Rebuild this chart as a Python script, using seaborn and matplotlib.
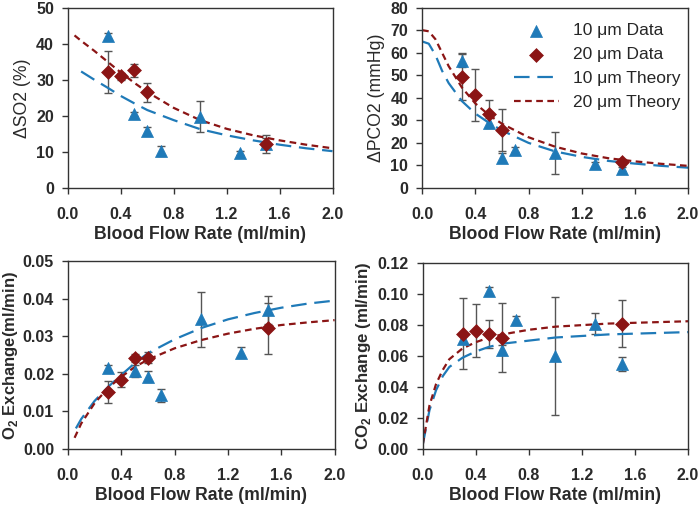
import numpy as np
import seaborn as sns
import matplotlib.pyplot as plt

# measured flow rates (ml/min)
flow_10 = [0.3, 0.5, 0.6, 0.7, 1.0, 1.3, 1.5]
flow_20 = [0.3, 0.4, 0.5, 0.6, 1.5]

# delta SO2 (%)
so2_10 = [42.2, 20.5, 15.8, 10.2, 19.8, 9.6, 12.2]
so2_10_err = [0.8, 0.5, 1.2, 1.3, 4.2, 0.6, 2.6]
so2_20 = [32.2, 31.0, 32.6, 26.5, 12.3]
so2_20_err = [5.9, 1.0, 1.8, 2.7, 1.5]

# delta PCO2 (mmHg)
pco2_10 = [56.5, 28.7, 13.5, 17.0, 15.5, 10.5, 8.5]
pco2_10_err = [2.8, 2.2, 2.0, 1.0, 9.3, 1.0, 1.0]
pco2_20 = [49.3, 41.3, 33.0, 25.7, 11.5]
pco2_20_err = [10.4, 11.6, 6.0, 9.5, 1.5]

# O2 exchange (ml/min)
o2_10 = [0.0215, 0.0208, 0.0193, 0.0143, 0.0345, 0.0256, 0.0370]
o2_10_err = [0.0008, 0.0015, 0.0015, 0.0017, 0.0073, 0.0015, 0.0037]
o2_20 = [0.0152, 0.0185, 0.0242, 0.0243, 0.0321]
o2_20_err = [0.0030, 0.0020, 0.0010, 0.0015, 0.0068]

# CO2 exchange (ml/min)
co2_10 = [0.071, 0.102, 0.064, 0.083, 0.060, 0.081, 0.055]
co2_10_err = [0.002, 0.0025, 0.003, 0.003, 0.038, 0.0065, 0.0045]
co2_20 = [0.0745, 0.0765, 0.074, 0.072, 0.081]
co2_20_err = [0.023, 0.017, 0.009, 0.0225, 0.015]

# theory curves
th_so2_x10 = [0.1, 0.2, 0.3, 0.4, 0.5, 0.6, 0.8, 1.0, 1.2, 1.4, 1.6, 1.8, 2.0]
th_so2_10 = [32.3, 30.0, 27.8, 25.5, 23.5, 21.6, 18.8, 16.3, 14.6, 13.2, 12.0, 11.0, 10.2]
th_so2_x20 = [0.05, 0.1, 0.2, 0.3, 0.4, 0.5, 0.6, 0.8, 1.0, 1.2, 1.4, 1.6, 1.8, 2.0]
th_so2_20 = [42.3, 40.8, 38.0, 35.0, 32.0, 29.2, 26.6, 22.2, 18.8, 16.4, 14.6, 13.2, 12.0, 11.0]

th_pco2_x = [0.0, 0.05, 0.1, 0.15, 0.2, 0.3, 0.4, 0.5, 0.6, 0.8, 1.0, 1.2, 1.4, 1.6, 1.8, 2.0]
th_pco2_10 = [65.0, 64.0, 59.0, 52.0, 46.5, 38.5, 33.0, 29.0, 25.5, 20.0, 16.2, 13.8, 12.0, 10.8, 9.8, 9.0]
th_pco2_20 = [70.0, 69.5, 66.0, 60.0, 54.0, 44.5, 37.5, 32.5, 28.5, 22.5, 18.3, 15.3, 13.2, 11.8, 10.7, 9.8]

th_o2_x10 = [0.06, 0.1, 0.2, 0.3, 0.4, 0.5, 0.6, 0.8, 1.0, 1.2, 1.4, 1.6, 1.8, 2.0]
th_o2_10 = [0.0055, 0.0080, 0.0128, 0.0165, 0.0197, 0.0228, 0.0255, 0.0292, 0.0322, 0.0345, 0.0362, 0.0376, 0.0387, 0.0395]
th_o2_x20 = [0.05, 0.1, 0.2, 0.3, 0.4, 0.5, 0.6, 0.8, 1.0, 1.2, 1.4, 1.6, 1.8, 2.0]
th_o2_20 = [0.0030, 0.0068, 0.0122, 0.0162, 0.0192, 0.0218, 0.0238, 0.0268, 0.0290, 0.0307, 0.0320, 0.0330, 0.0337, 0.0343]

th_co2_x = [0.0, 0.05, 0.1, 0.15, 0.2, 0.3, 0.4, 0.5, 0.6, 0.8, 1.0, 1.2, 1.4, 1.6, 1.8, 2.0]
th_co2_10 = [0.003, 0.025, 0.038, 0.047, 0.053, 0.059, 0.063, 0.066, 0.068, 0.070, 0.072, 0.073, 0.074, 0.0745, 0.075, 0.0755]
th_co2_20 = [0.003, 0.028, 0.042, 0.051, 0.058, 0.065, 0.069, 0.072, 0.074, 0.077, 0.079, 0.080, 0.081, 0.0815, 0.082, 0.0825]

BLUE = '#1f7ab8'
RED = '#8b1515'
TXT = '#2a2a2a'

sns.set_style('white')
plt.rcParams['font.family'] = ['Liberation Sans', 'DejaVu Sans']
plt.rcParams['mathtext.fontset'] = 'custom'
plt.rcParams['mathtext.rm'] = 'Liberation Sans:bold'
plt.rcParams['mathtext.bf'] = 'Liberation Sans:bold'

fig = plt.figure(figsize=(7, 5.08), dpi=100)
positions = [
    [0.097, 0.630, 0.378, 0.355],
    [0.603, 0.630, 0.380, 0.355],
    [0.097, 0.116, 0.381, 0.370],
    [0.604, 0.116, 0.379, 0.366],
]

panels = [
    dict(d10=so2_10, e10=so2_10_err, d20=so2_20, e20=so2_20_err,
         tx10=th_so2_x10, t10=th_so2_10, tx20=th_so2_x20, t20=th_so2_20,
         ylim=(0, 50), yticks=np.arange(0, 51, 10), fmt='{:.0f}',
         ylabel='ΔSO2 (%)', ybold=False, ysize=12.7, ypad=4),
    dict(d10=pco2_10, e10=pco2_10_err, d20=pco2_20, e20=pco2_20_err,
         tx10=th_pco2_x, t10=th_pco2_10, tx20=th_pco2_x, t20=th_pco2_20,
         ylim=(0, 80), yticks=np.arange(0, 81, 10), fmt='{:.0f}',
         ylabel='ΔPCO2 (mmHg)', ybold=False, ysize=12.7, ypad=4),
    dict(d10=o2_10, e10=o2_10_err, d20=o2_20, e20=o2_20_err,
         tx10=th_o2_x10, t10=th_o2_10, tx20=th_o2_x20, t20=th_o2_20,
         ylim=(0, 0.05), yticks=np.arange(0, 0.051, 0.01), fmt='{:.2f}',
         ylabel=r'O$_{2}$ Exchange(ml/min)', ybold=True, ysize=12, ypad=2),
    dict(d10=co2_10, e10=co2_10_err, d20=co2_20, e20=co2_20_err,
         tx10=th_co2_x, t10=th_co2_10, tx20=th_co2_x, t20=th_co2_20,
         ylim=(0, 0.12), yticks=np.arange(0, 0.121, 0.02), fmt='{:.2f}',
         ylabel=r'CO$_{2}$ Exchange (ml/min)', ybold=True, ysize=12.2, ypad=3),
]

for i, p in enumerate(panels):
    ax = fig.add_axes(positions[i])
    # error bars
    ax.errorbar(flow_20, p['d20'], yerr=p['e20'], fmt='none', ecolor='#555555',
                elinewidth=1.0, capsize=3, capthick=1.0, zorder=1)
    ax.errorbar(flow_10, p['d10'], yerr=p['e10'], fmt='none', ecolor='#555555',
                elinewidth=1.0, capsize=3, capthick=1.0, zorder=1)
    # theory lines
    sns.lineplot(x=p['tx10'], y=p['t10'], ax=ax, color=BLUE, lw=1.6,
                 label='10 μm Theory', zorder=2).lines[-1].set_dashes([7, 3.5])
    sns.lineplot(x=p['tx20'], y=p['t20'], ax=ax, color=RED, lw=1.6,
                 label='20 μm Theory', zorder=2).lines[-1].set_dashes([3, 2])
    # data points
    sns.scatterplot(x=flow_10, y=p['d10'], ax=ax, marker='^', s=75, color=BLUE,
                    edgecolor=BLUE, linewidth=0.5, label='10 μm Data', zorder=3)
    sns.scatterplot(x=flow_20, y=p['d20'], ax=ax, marker='D', s=50, color=RED,
                    edgecolor=RED, linewidth=0.5, label='20 μm Data', zorder=4)

    ax.set_xlim(0, 2.0)
    ax.set_ylim(*p['ylim'])
    ax.set_xticks(np.arange(0, 2.01, 0.4))
    ax.set_xticklabels(['{:.1f}'.format(v) for v in np.arange(0, 2.01, 0.4)])
    ax.set_yticks(p['yticks'])
    ax.set_yticklabels([p['fmt'].format(v) for v in p['yticks']])
    ax.tick_params(direction='out', length=4, width=1, labelsize=11.5,
                   left=True, bottom=True, color='#333333')
    ax.tick_params(axis='x', pad=9.5)
    ax.tick_params(axis='y', pad=6)
    for lab in ax.get_xticklabels() + ax.get_yticklabels():
        lab.set_fontweight('bold')
        lab.set_color(TXT)
    ax.set_xlabel('Blood Flow Rate (ml/min)', fontsize=12.7, fontweight='bold',
                  color=TXT, labelpad=3)
    ax.set_ylabel(p['ylabel'], fontsize=p['ysize'],
                  fontweight='bold' if p['ybold'] else 'normal',
                  color=TXT, labelpad=p['ypad'])
    for sp in ax.spines.values():
        sp.set_color('#333333')
        sp.set_linewidth(1.0)

    if i == 1:
        h, l = ax.get_legend_handles_labels()
        order = [l.index('10 μm Data'), l.index('20 μm Data'),
                 l.index('10 μm Theory'), l.index('20 μm Theory')]
        ax.legend([h[k] for k in order], [l[k] for k in order], frameon=False,
                  fontsize=12.5, loc='upper right', bbox_to_anchor=(1.03, 1.0),
                  handlelength=2.6, labelspacing=0.5, handletextpad=0.8)
    else:
        ax.get_legend().remove()

fig.savefig('out.png', dpi=100)
